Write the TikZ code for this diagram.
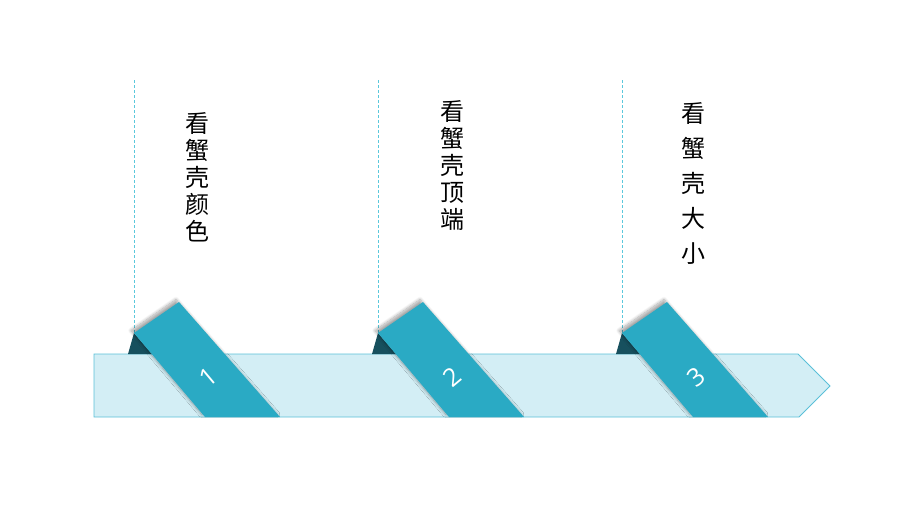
\documentclass[tikz,border=0pt]{standalone}
\usepackage{fontspec}
\newfontfamily\cjk{Noto Sans CJK SC}
\newfontfamily\numfont{Open Sans}
\usetikzlibrary{shadows.blur}
\definecolor{bandfill}{HTML}{D3EEF5}
\definecolor{bandline}{HTML}{5BC0D8}
\definecolor{ribbon}{HTML}{2AAAC4}
\definecolor{fold}{HTML}{17505E}
\definecolor{guide}{HTML}{5BC8DC}
\tikzset{
  band/.style={fill=bandfill, draw=bandline, line width=0.8pt},
  ribbonbox/.style={fill=ribbon, blur shadow={shadow xshift=-3pt, shadow yshift=2.5pt, shadow blur radius=3pt, shadow blur steps=10, shadow opacity=35}},
  foldtri/.style={fill=fold},
  guideline/.style={draw=guide, dash pattern=on 3pt off 2pt, line width=0.6pt},
  numtext/.style={text=white, font=\numfont\fontsize{25}{25}\selectfont, rotate=40},
  steptext/.style={font=\cjk\fontsize{24}{27}\selectfont, align=center}
}
\begin{document}
\begin{tikzpicture}[x=1pt, y=-1pt]
  \useasboundingbox (0,0) rectangle (908,509);
  % band with arrow end
  \draw[band] (94,354) -- (798,354) -- (830,386) -- (799,417) -- (94,417) -- cycle;
  % guide lines
  \draw
    (134,80) coordinate (g1)
    (134,333) coordinate (c1)
    (378,80) coordinate (g2)
    (378,333) coordinate (c2)
    (622,80) coordinate (g3)
    (622,333) coordinate (c3);
  \begin{scope}[guideline]
    \draw (g1) -- (c1);
    \draw (g2) -- (c2);
    \draw (g3) -- (c3);
  \end{scope}
  % folds
  \fill[foldtri] (c1) -- (128,354) -- (152,354) -- cycle;
  \fill[foldtri] (c2) -- (372,354) -- (396,354) -- cycle;
  \fill[foldtri] (c3) -- (616,354) -- (640,354) -- cycle;
  % ribbons
  \path[ribbonbox] (c1) -- (179,302) -- (280,417) -- (205,417) -- cycle;
  \path[ribbonbox] (c2) -- (423,302) -- (524,417) -- (449,417) -- cycle;
  \path[ribbonbox] (c3) -- (667,302) -- (768,417) -- (693,417) -- cycle;
  \node[numtext] (n1) at (208,377) {1};
  \node[numtext] (n2) at (452,377) {2};
  \node[numtext] (n3) at (696,377) {3};
  % texts
  \node[steptext] (t1) at (197,177) {看\\蟹\\壳\\颜\\色};
  \node[steptext] (t2) at (452,165) {看\\蟹\\壳\\顶\\端};
  \node[steptext, font=\cjk\fontsize{24}{35}\selectfont] (t3) at (693,183) {看\\蟹\\壳\\大\\小};
\end{tikzpicture}
\end{document}
